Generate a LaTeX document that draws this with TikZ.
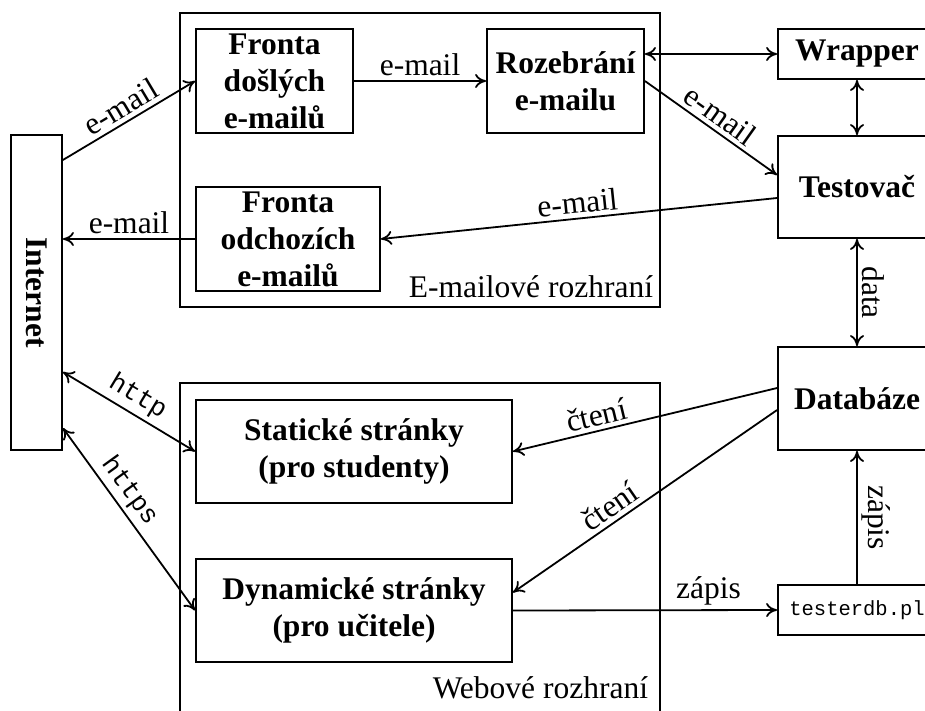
\documentclass[tikz,border=0pt]{standalone}
\usepackage{fontspec}
\setmainfont{Liberation Serif}
\setmonofont{Liberation Mono}
\usetikzlibrary{arrows.meta,calc}
\begin{document}
\begin{tikzpicture}[x=1pt,y=-1pt, line width=1.8pt,
  box/.style={draw, line width=1.8pt, inner sep=0pt, align=center, font=\fontsize{31.5}{37}\selectfont\bfseries},
  grp/.style={draw, line width=1.8pt, inner sep=0pt},
  lbl/.style={font=\fontsize{31.5}{37}\selectfont, inner sep=4pt},
  glbl/.style={font=\fontsize{31.5}{37}\selectfont, inner sep=0pt, anchor=base east},
  ttl/.style={font=\fontsize{26}{30}\selectfont\ttfamily, inner sep=4pt},
  >={Computer Modern Rightarrow[length=11pt,width=14pt]}]
\useasboundingbox (0,0) rectangle (925,711);
\clip (0,0) rectangle (925,711);

% group boxes
\node[grp, minimum width=480pt, minimum height=294pt] (em) at (420,160) {};
\node[grp, minimum width=480pt, minimum height=332pt] (web) at (420,549) {};
\node[glbl] (emlbl) at ([xshift=-7pt,yshift=10pt]em.south east) {E-mailové rozhraní};
\node[glbl] (weblbl) at ([xshift=-12pt,yshift=17pt]web.south east) {Webové rozhraní};

% boxes
\node[box, minimum width=51pt, minimum height=315pt] (inet) at (36.5,292.5) {\rotatebox{-90}{Internet}};
\node[box, minimum width=157pt, minimum height=104pt] (dl) at (274.5,81) {Fronta\\došlých\\e-mailů};
\node[box, minimum width=184pt, minimum height=104pt] (od) at (288,239) {Fronta\\odchozích\\e-mailů};
\node[box, minimum width=157pt, minimum height=104pt] (rz) at (565.5,81) {Rozebrání\\e-mailu};
\node[box, minimum width=158pt, minimum height=50pt] (wr) at (857,54) {Wrapper};
\node[box, minimum width=158pt, minimum height=102pt] (ts) at (857,187) {Testovač};
\node[box, minimum width=158pt, minimum height=103pt] (db) at (857,398.5) {Databáze};
\node[box, minimum width=158pt, minimum height=50pt, font=\fontsize{20.5}{24}\selectfont\ttfamily] (tdb) at (857,610) {testerdb.pl};
\node[box, minimum width=316pt, minimum height=103pt] (st) at (354,451.5) {Statické stránky\\(pro studenty)};
\node[box, minimum width=316pt, minimum height=103pt] (dy) at (354,610.5) {Dynamické stránky\\(pro učitele)};

% connectors
\draw[->] ([yshift=132.5pt]inet.east) -- node[lbl, sloped, above]{e-mail} (dl.west);
\draw[->] (dl.east) -- node[lbl, above]{e-mail} (rz.west);
\draw[<->] (rz.east |- wr.west) -- (wr.west);
\draw[<->] (wr.south) -- (ts.north);
\draw[->] (rz.east) -- node[lbl, sloped, above]{e-mail} ([yshift=12pt]ts.west);
\draw[->] ([yshift=-11pt]ts.west) -- node[lbl, sloped, above]{e-mail} (od.east);
\draw[->] (od.west) -- node[lbl, above]{e-mail} (inet.east |- od.west);
\draw[<->] (ts.south) -- node[lbl, rotate=-90, anchor=south]{data} (db.north);
\draw[->] ([yshift=10.5pt]db.west) -- node[lbl, sloped, above, pos=0.67]{čtení} (st.east);
\draw[->] ([yshift=-11.5pt]db.west) -- node[lbl, sloped, above, pos=0.6]{čtení} ([yshift=18pt]dy.east);
\draw[->] (dy.east) -- node[lbl, above, pos=0.74]{zápis} (tdb.west);
\draw[->] (tdb.north) -- node[lbl, rotate=-90, anchor=south]{zápis} (db.south);
\draw[<->] ([yshift=-79.5pt]inet.east) -- node[ttl, sloped, above]{http} (st.west);
\draw[<->] ([yshift=-135.5pt]inet.east) -- node[ttl, sloped, above, pos=0.4]{https} (dy.west);
\end{tikzpicture}
\end{document}
